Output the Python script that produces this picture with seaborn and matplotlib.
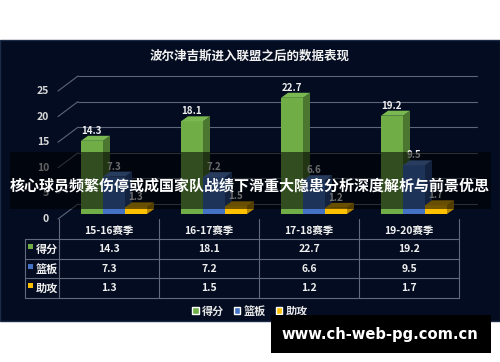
import matplotlib
matplotlib.use('Agg')
import matplotlib.pyplot as plt
import matplotlib.transforms as mtransforms
from matplotlib.patches import Rectangle, Polygon
import numpy as np
import pandas as pd
import seaborn as sns

# ---------------- data ----------------
seasons = ['15-16赛季', '16-17赛季', '17-18赛季', '19-20赛季']
stats = ['得分', '篮板', '助攻']
points = [14.3, 18.1, 22.7, 19.2]
rebounds = [7.3, 7.2, 6.6, 9.5]
assists = [1.3, 1.5, 1.2, 1.7]
yticks = [0, 5, 10, 15, 20, 25]
title = '波尔津吉斯进入联盟之后的数据表现'
banner = '核心球员频繁伤停或成国家队战绩下滑重大隐患分析深度解析与前景优思'
watermark = 'www.ch-web-pg.com.cn'

front_colors = ['#70ad47', '#4472c4', '#ffc000']
side_colors = ['#4b7730', '#2c4f8c', '#b58700']
top_colors = ['#7ab851', '#5a86d2', '#e8ae00']

sns.set_theme(style='white')
plt.rcParams['font.family'] = ['Noto Sans CJK SC', 'DejaVu Sans']

W, H = 500, 362
fig = plt.figure(figsize=(5, 3.62), dpi=100)
fig.patch.set_facecolor('white')


def px_rect(l, t, r, b):
    return [l / W, (H - b) / H, (r - l) / W, (b - t) / H]


# background overlay (pixel coordinates)
bg = fig.add_axes([0, 0, 1, 1], zorder=0)
bg.set_xlim(0, W)
bg.set_ylim(H, 0)
bg.axis('off')
bg.add_patch(Rectangle((0, 40), 500, 281, facecolor='#030c20',
                       edgecolor='#1b2a47', lw=1))
bg.text(250, 56, title, ha='center', va='center', color='#f2f2f2',
        fontsize=9, fontweight='bold')

# ---------------- main bar chart ----------------
ax = fig.add_axes(px_rect(58, 76, 477, 219), zorder=5)
ax.patch.set_alpha(0)

df = pd.DataFrame({
    'season': seasons * 3,
    'stat': [s for s in stats for _ in seasons],
    'value': points + rebounds + assists,
})
sns.barplot(data=df, x='season', y='value', hue='stat', order=seasons,
            hue_order=stats, palette=front_colors, saturation=1, width=0.66,
            errorbar=None, ax=ax)

PXU = 5.12  # pixels per data unit
ax.set_xlim(-0.56, 3.63)
ax.set_ylim(-5 / PXU, (214 - 76) / PXU)

dx = 0.07
dy = 5 / PXU
for k, cont in enumerate(ax.containers):
    for p in cont.patches:
        x0, w, h = p.get_x(), p.get_width(), p.get_height()
        p.set_zorder(3 + k)
        p.set_edgecolor('none')
        p.set_linewidth(0)
        ax.add_patch(Polygon([(x0 + w, 0), (x0 + w, h), (x0 + w + dx, h + dy),
                              (x0 + w + dx, dy)], closed=True,
                             fc=side_colors[k], ec='none', zorder=3 + k))
        ax.add_patch(Polygon([(x0, h), (x0 + w, h), (x0 + w + dx, h + dy),
                              (x0 + dx, h + dy)], closed=True,
                             fc=top_colors[k], ec='none', zorder=3 + k))
    labs = ax.bar_label(cont, fmt='%.1f', padding=3.5, color='#f0f0f0',
                        fontsize=7, fontweight='bold')
    for t in labs:
        t.set_zorder(10)

# 3D-style gridlines and y labels
tr_b = mtransforms.blended_transform_factory(ax.transAxes, ax.transData)
back_dx = 20 / 419
front_off = -5 / PXU
back_off = 10 / PXU
grid_c = '#5d6679'
lab_tr = tr_b + mtransforms.ScaledTranslation(-9 / 100, 0, fig.dpi_scale_trans)
for v in yticks:
    ax.plot([0, back_dx], [v + front_off, v + back_off], transform=tr_b,
            color=grid_c, lw=0.8, clip_on=False, zorder=1)
    ax.plot([back_dx, 1], [v + back_off, v + back_off], transform=tr_b,
            color=grid_c, lw=0.8, clip_on=False, zorder=1)
    ax.text(0, v + front_off, str(v), transform=lab_tr, ha='right',
            va='center', color='#d9d9d9', fontsize=7.5, fontweight='bold')

for s in ax.spines.values():
    s.set_visible(False)
ax.set_xticks([])
ax.set_yticks([])
ax.set_xlabel('')
ax.set_ylabel('')

sns.move_legend(ax, 'center', bbox_to_anchor=(0.5, (H - 311) / H),
                bbox_transform=fig.transFigure, ncol=3, frameon=False,
                title=None, handlelength=0.55, handleheight=0.55,
                handletextpad=0.3, columnspacing=0.9, labelcolor='#e6e6e6',
                prop={'weight': 'bold', 'size': 8})

# ---------------- data table ----------------
line_c = '#5f6a7d'
col_x = [59 + 100 * i for i in range(len(seasons) + 1)]
rows_y = [239, 259, 278, 298]
for x in col_x:
    bg.plot([x, x], [219, 298], color=line_c, lw=0.8)
bg.plot([25, 25], [239, 298], color=line_c, lw=0.8)
for y in rows_y:
    bg.plot([25, col_x[-1]], [y, y], color=line_c, lw=0.8)

for i, s in enumerate(seasons):
    bg.text(col_x[i] + 50, 231, s, ha='center', va='center', color='#f0f0f0',
            fontsize=7.5, fontweight='bold')

table_vals = [points, rebounds, assists]
for r, (name, vals) in enumerate(zip(stats, table_vals)):
    top, bot = rows_y[r], rows_y[r + 1]
    cy = (top + bot) / 2
    bg.add_patch(Rectangle((28, top + 5), 5, 5, fc=front_colors[r], ec='none'))
    bg.text(36, cy + 0.5, name, ha='left', va='center', color='#f0f0f0',
            fontsize=8, fontweight='bold')
    for i, v in enumerate(vals):
        bg.text(col_x[i] + 50, cy, f'{v:.1f}', ha='center', va='center',
                color='#f0f0f0', fontsize=7.5, fontweight='bold')

# ---------------- overlays ----------------
fg = fig.add_axes([0, 0, 1, 1], zorder=10)
fg.set_xlim(0, W)
fg.set_ylim(H, 0)
fg.axis('off')
fg.patch.set_alpha(0)
fg.add_patch(Rectangle((10, 152), 481, 57, fc='black', alpha=0.55, ec='none'))
fg.text(250, 185, banner, ha='center', va='center', color='white',
        fontsize=10.8, fontweight='bold')
fg.add_patch(Rectangle((271, 315), 220, 38, fc='black', ec='none'))
fg.text(380, 334, watermark, ha='center', va='center', color='white',
        fontsize=10.6, fontweight='bold', family='DejaVu Sans')

fig.savefig('out.png', dpi=100)
